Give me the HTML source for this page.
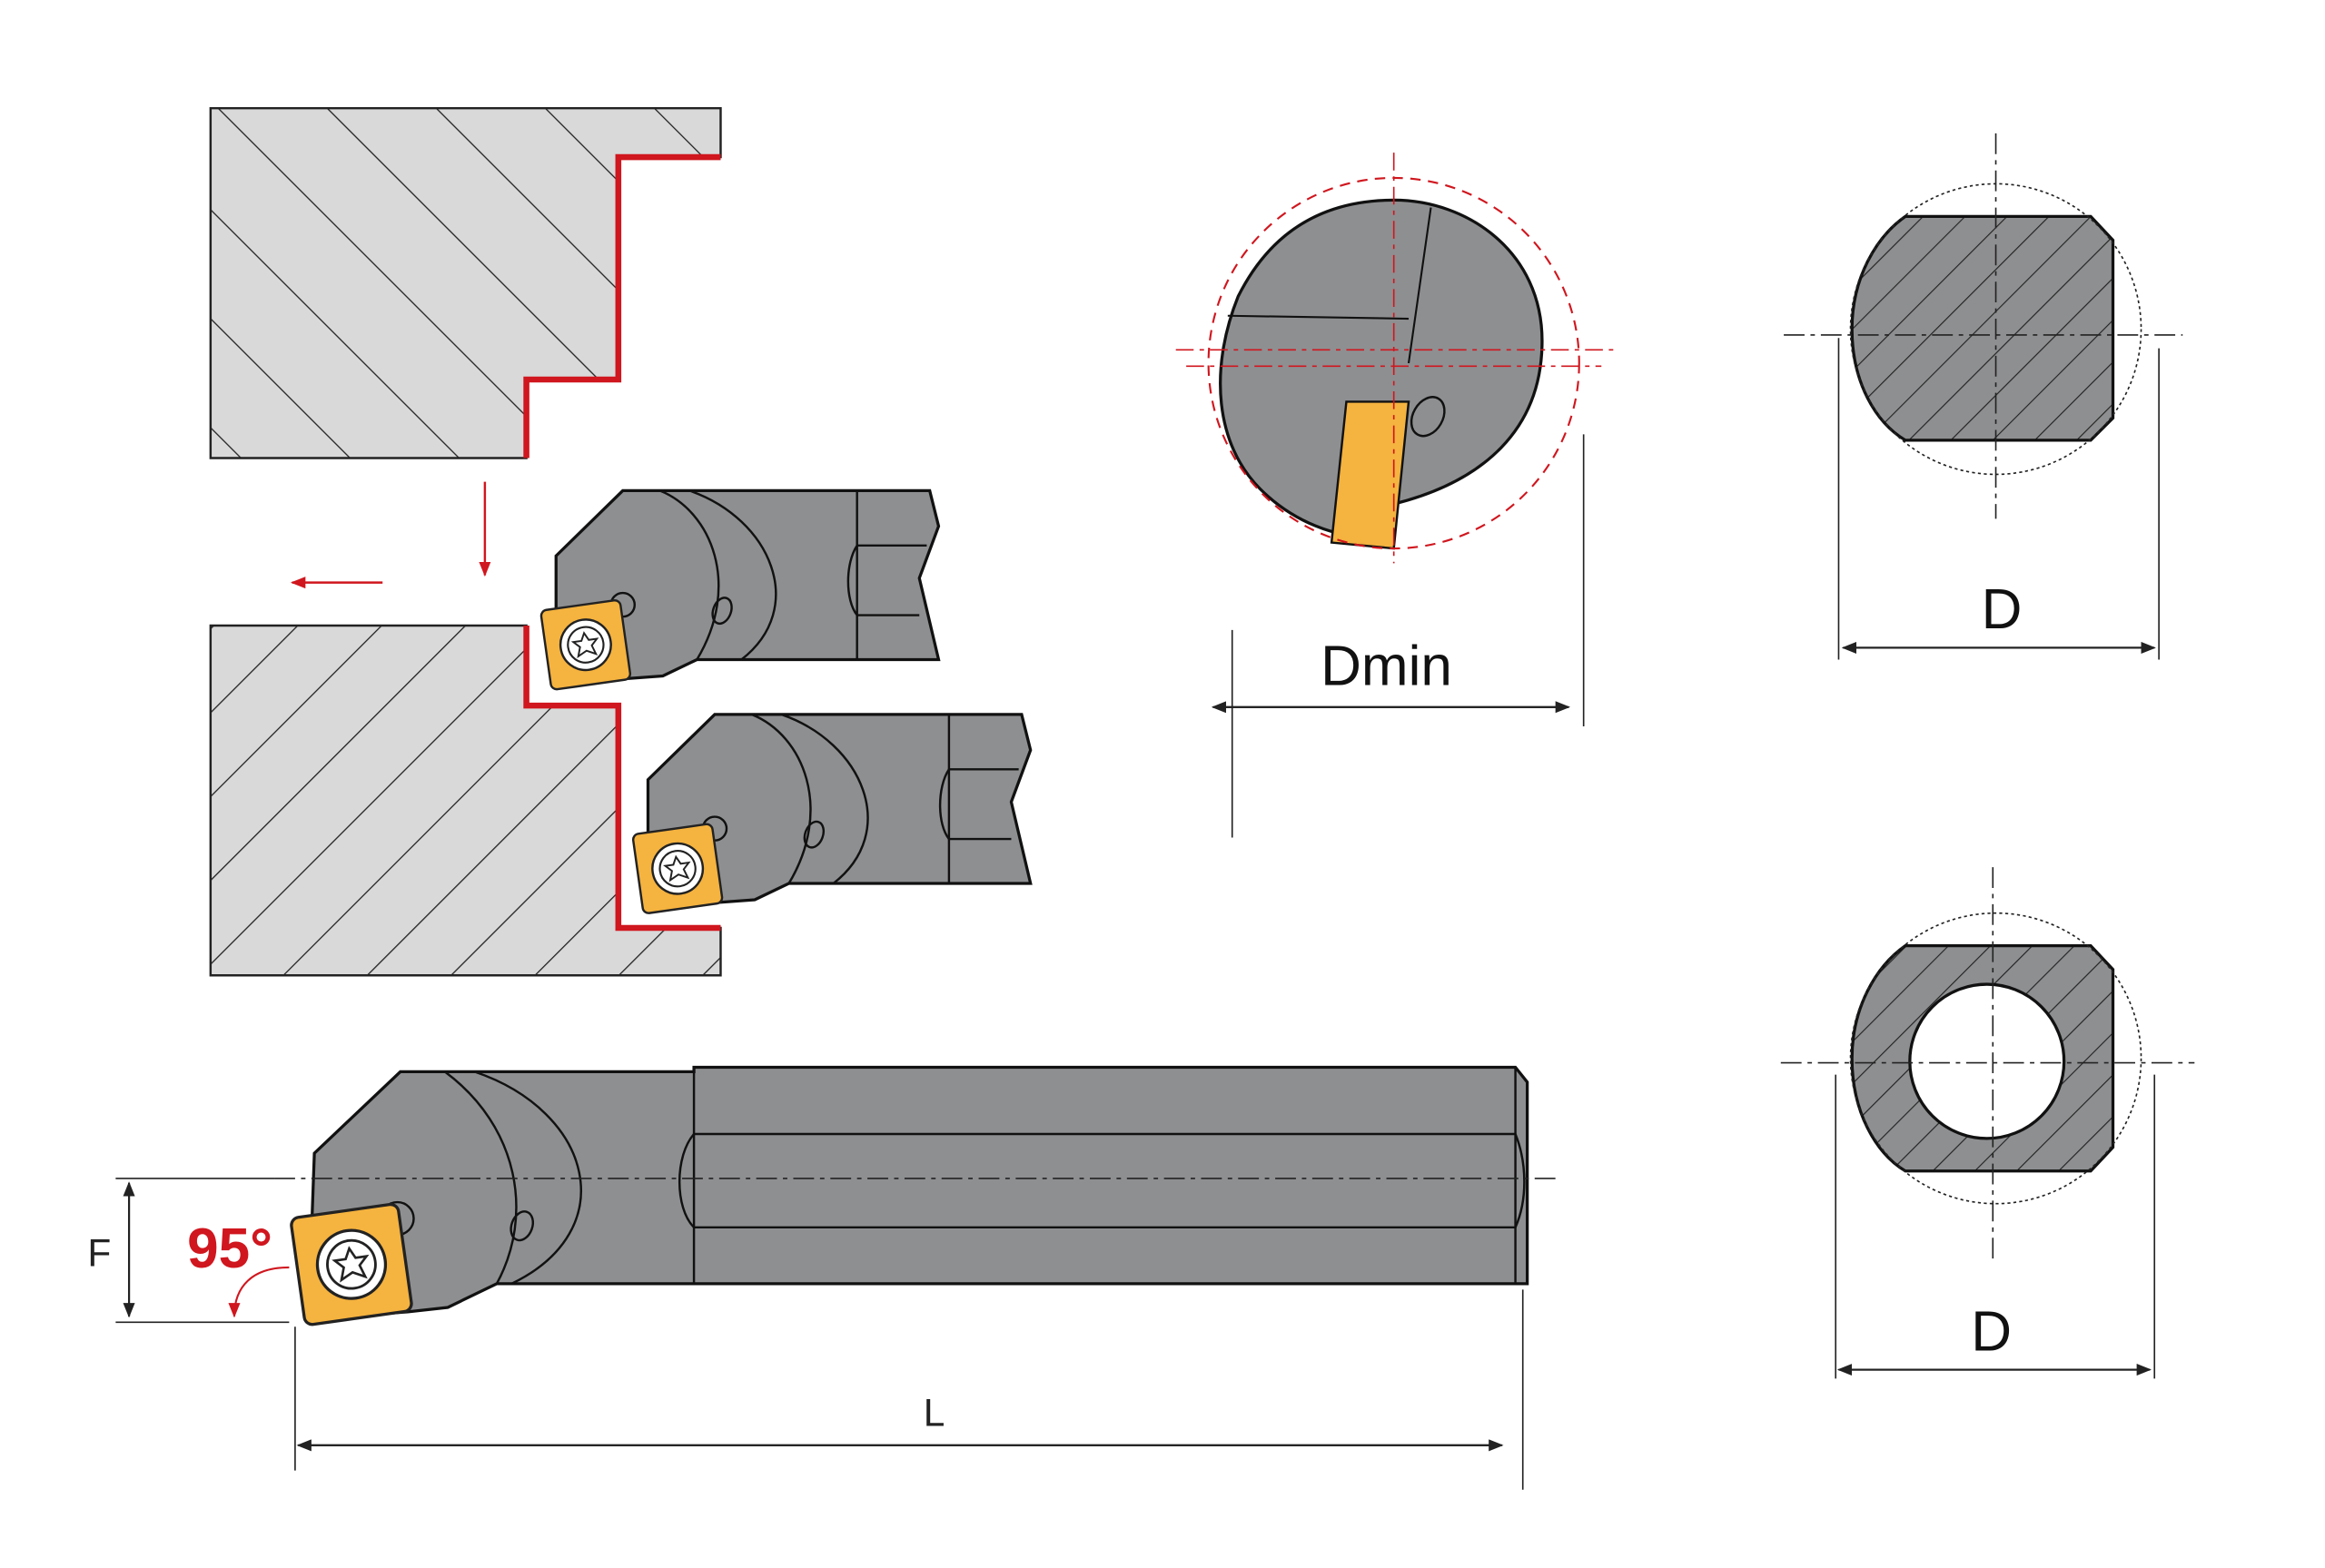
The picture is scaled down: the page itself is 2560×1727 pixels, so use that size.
<!DOCTYPE html>
<html><head><meta charset="utf-8"><style>html,body{margin:0;padding:0;background:#fff}svg{display:block}</style></head><body>
<svg width="2560" height="1727" viewBox="0 0 1568 1057.8" xmlns="http://www.w3.org/2000/svg" font-family="Liberation Sans, Arial, sans-serif">
<defs>
<pattern id="h1" patternUnits="userSpaceOnUse" width="52" height="52" patternTransform="rotate(-45)"><line x1="0" y1="0" x2="0" y2="52" stroke="#222" stroke-width="1.6"/></pattern>
<pattern id="h2" patternUnits="userSpaceOnUse" width="40" height="40" patternTransform="rotate(45)"><line x1="0" y1="0" x2="0" y2="40" stroke="#222" stroke-width="1.6"/></pattern>
<pattern id="h3" patternUnits="userSpaceOnUse" width="20" height="20" patternTransform="rotate(45)"><rect width="20" height="20" fill="#8e8f91"/><line x1="0" y1="0" x2="0" y2="20" stroke="#222" stroke-width="1.4"/></pattern>
<marker id="ar" markerWidth="10" markerHeight="8" refX="9" refY="4" orient="auto" markerUnits="userSpaceOnUse"><path d="M0,0 L10,4 L0,8 Z" fill="#222"/></marker>
<marker id="arr" markerWidth="10" markerHeight="8" refX="9" refY="4" orient="auto" markerUnits="userSpaceOnUse"><path d="M0,0 L10,4 L0,8 Z" fill="#d0161e"/></marker>
<g id="ins"><rect x="-27" y="-27" width="54" height="54" rx="4" fill="#f5b33f" stroke="#222" stroke-width="1.5"/><circle r="17" fill="#fff" stroke="#222" stroke-width="1.5"/><circle r="12" fill="none" stroke="#222" stroke-width="1.3"/><path d="M0,-8 L2.5,-3 8,-3 4,1 6,7 0,4 -6,7 -4,1 -8,-3 -2.5,-3Z" fill="none" stroke="#222" stroke-width="1.2"/></g>
<g id="tool">
<path d="M375,375 L420,331 L627,331 L633,355 L620,390 L633,445 L470,445 L447,456 L420,458 L375,440 Z" fill="#8e8f91" stroke="#111" stroke-width="2"/>
<path d="M445,331 C480,345 500,395 470,445" fill="none" stroke="#111" stroke-width="1.5"/>
<path d="M465,331 C520,350 545,410 500,445" fill="none" stroke="#111" stroke-width="1.5"/>
<line x1="578" y1="331" x2="578" y2="445" stroke="#111" stroke-width="1.5"/>
<path d="M578,368 C570,380 570,405 578,415 L620,415 M578,368 L625,368" fill="none" stroke="#111" stroke-width="1.5"/>
<ellipse cx="487" cy="412" rx="6" ry="9" transform="rotate(20 487 412)" fill="none" stroke="#111" stroke-width="1.5"/>
<circle cx="420" cy="408" r="8" fill="none" stroke="#111" stroke-width="1.5"/>
<use href="#ins" transform="translate(395,435) rotate(-8)"/>
</g>
</defs>
<path d="M142,73 L486,73 L486,106 L417,106 L417,256 L355,256 L355,309 L142,309 Z" fill="#d9d9d9" stroke="#222" stroke-width="1.5"/>
<path d="M142,73 L486,73 L486,106 L417,106 L417,256 L355,256 L355,309 L142,309 Z" fill="url(#h1)"/>
<path d="M486,106 L417,106 L417,256 L355,256 L355,309" fill="none" stroke="#d0161e" stroke-width="4"/>
<path d="M142,422 L355,422 L355,476 L417,476 L417,626 L486,626 L486,658 L142,658 Z" fill="#d9d9d9" stroke="#222" stroke-width="1.5"/>
<path d="M142,422 L355,422 L355,476 L417,476 L417,626 L486,626 L486,658 L142,658 Z" fill="url(#h2)"/>
<path d="M355,422 L355,476 L417,476 L417,626 L486,626" fill="none" stroke="#d0161e" stroke-width="4"/>
<line x1="327" y1="325" x2="327" y2="388" stroke="#d0161e" stroke-width="1.5" marker-end="url(#arr)"/>
<line x1="258" y1="393" x2="197" y2="393" stroke="#d0161e" stroke-width="1.5" marker-end="url(#arr)"/>
<use href="#tool"/>
<use href="#tool" transform="translate(62,151)"/>
<path d="M212,778 L270,723 L468,723 L468,720 L1022,720 L1030,730 L1030,866 L468,866 L468,866 L335,866 L302,882 L275,885 L208,890 Z" fill="#8e8f91" stroke="#111" stroke-width="2"/>
<line x1="468" y1="720" x2="468" y2="866" stroke="#111" stroke-width="1.5"/>
<line x1="1022" y1="720" x2="1022" y2="866" stroke="#111" stroke-width="1.5"/>
<path d="M468,765 L1022,765 M468,828 L1022,828" stroke="#111" stroke-width="1.5"/>
<path d="M468,765 C455,780 455,815 468,828 M1022,765 C1030,785 1030,810 1022,828" fill="none" stroke="#111" stroke-width="1.5"/>
<path d="M300,723 C350,760 360,820 335,866" fill="none" stroke="#111" stroke-width="1.5"/>
<path d="M320,723 C400,750 420,830 345,866" fill="none" stroke="#111" stroke-width="1.5"/>
<ellipse cx="352" cy="827" rx="7" ry="10" transform="rotate(20 352 827)" fill="none" stroke="#111" stroke-width="1.5"/>
<circle cx="268" cy="822" r="11" fill="none" stroke="#111" stroke-width="1.5"/>
<use href="#ins" transform="translate(237,853) rotate(-8) scale(1.35)"/>
<line x1="185" y1="795" x2="1050" y2="795" stroke="#222" stroke-width="1" stroke-dasharray="14,4,3,4"/>
<line x1="78" y1="795" x2="185" y2="795" stroke="#222" stroke-width="1"/>
<line x1="78" y1="892" x2="195" y2="892" stroke="#222" stroke-width="1"/>
<line x1="87" y1="800" x2="87" y2="888" stroke="#222" stroke-width="1.3" marker-end="url(#ar)"/>
<line x1="87" y1="888" x2="87" y2="798" stroke="#222" stroke-width="1.3" marker-end="url(#ar)"/>
<text x="67" y="854" font-size="26" text-anchor="middle" fill="#222">F</text>
<text x="155" y="855" font-size="38" font-weight="bold" text-anchor="middle" fill="#d0161e">95°</text>
<path d="M195,855 C170,855 158,868 158,888" fill="none" stroke="#d0161e" stroke-width="1.3" marker-end="url(#arr)"/>
<line x1="199" y1="895" x2="199" y2="992" stroke="#222" stroke-width="1"/>
<line x1="1027" y1="870" x2="1027" y2="1005" stroke="#222" stroke-width="1"/>
<line x1="205" y1="975" x2="1013" y2="975" stroke="#222" stroke-width="1.3" marker-end="url(#ar)"/>
<line x1="1010" y1="975" x2="201" y2="975" stroke="#222" stroke-width="1.3" marker-end="url(#ar)"/>
<text x="630" y="962" font-size="26" text-anchor="middle" fill="#222">L</text>
<path d="M835,200 C860,150 900,135 940,135 C990,135 1040,170 1040,230 C1040,290 1000,325 940,340 L937,363 C900,365 870,350 850,330 C820,300 815,250 835,200 Z" fill="#8e8f91" stroke="#111" stroke-width="2"/>
<path d="M828,213 L950,215 M965,140 L950,245" stroke="#111" stroke-width="1.3" fill="none"/>
<ellipse cx="963" cy="281" rx="10" ry="14" transform="rotate(30 963 281)" fill="none" stroke="#111" stroke-width="1.5"/>
<path d="M908,271 L950,271 L940,370 L898,366 Z" fill="#f5b33f" stroke="#111" stroke-width="1.5"/>
<circle cx="940" cy="245" r="125" fill="none" stroke="#d0161e" stroke-width="1.3" stroke-dasharray="7,5"/>
<line x1="940" y1="103" x2="940" y2="380" stroke="#d0161e" stroke-width="1" stroke-dasharray="12,4,3,4"/>
<line x1="793" y1="236" x2="1088" y2="236" stroke="#d0161e" stroke-width="1" stroke-dasharray="12,4,3,4"/>
<line x1="800" y1="247" x2="1080" y2="247" stroke="#d0161e" stroke-width="1" stroke-dasharray="12,4,3,4"/>
<line x1="831" y1="425" x2="831" y2="565" stroke="#222" stroke-width="1"/>
<line x1="1068" y1="293" x2="1068" y2="490" stroke="#222" stroke-width="1"/>
<line x1="824" y1="477" x2="1058" y2="477" stroke="#222" stroke-width="1.3" marker-end="url(#ar)"/>
<line x1="1054" y1="477" x2="818" y2="477" stroke="#222" stroke-width="1.3" marker-end="url(#ar)"/>
<text x="935" y="462" font-size="38" text-anchor="middle" fill="#111">Dmin</text>
<path d="M1285,146 L1410,146 L1425,162 L1425,282 L1410,297 L1285,297 C1265,285 1249,258 1249,222 C1249,188 1265,160 1285,146 Z" fill="url(#h3)" stroke="#111" stroke-width="2"/>
<circle cx="1346" cy="222" r="98" fill="none" stroke="#222" stroke-width="1" stroke-dasharray="2,2"/>
<line x1="1346" y1="90" x2="1346" y2="350" stroke="#222" stroke-width="1" stroke-dasharray="14,4,3,4"/>
<line x1="1203" y1="226" x2="1472" y2="226" stroke="#222" stroke-width="1" stroke-dasharray="14,4,3,4"/>
<line x1="1240" y1="228" x2="1240" y2="445" stroke="#222" stroke-width="1"/>
<line x1="1456" y1="235" x2="1456" y2="445" stroke="#222" stroke-width="1"/>
<line x1="1246" y1="437" x2="1453" y2="437" stroke="#222" stroke-width="1.3" marker-end="url(#ar)"/>
<line x1="1450" y1="437" x2="1243" y2="437" stroke="#222" stroke-width="1.3" marker-end="url(#ar)"/>
<text x="1350" y="424" font-size="38" text-anchor="middle" fill="#111">D</text>
<path d="M1285,638 L1410,638 L1425,654 L1425,774 L1410,790 L1285,790 C1265,778 1249,750 1249,714 C1249,680 1265,652 1285,638 Z" fill="url(#h3)" stroke="#111" stroke-width="2"/>
<circle cx="1340" cy="716" r="52" fill="#fff" stroke="#111" stroke-width="2"/>
<circle cx="1346" cy="714" r="98" fill="none" stroke="#222" stroke-width="1" stroke-dasharray="2,2"/>
<line x1="1344" y1="585" x2="1344" y2="850" stroke="#222" stroke-width="1" stroke-dasharray="14,4,3,4"/>
<line x1="1201" y1="717" x2="1480" y2="717" stroke="#222" stroke-width="1" stroke-dasharray="14,4,3,4"/>
<line x1="1238" y1="725" x2="1238" y2="930" stroke="#222" stroke-width="1"/>
<line x1="1453" y1="725" x2="1453" y2="930" stroke="#222" stroke-width="1"/>
<line x1="1243" y1="924" x2="1450" y2="924" stroke="#222" stroke-width="1.3" marker-end="url(#ar)"/>
<line x1="1447" y1="924" x2="1240" y2="924" stroke="#222" stroke-width="1.3" marker-end="url(#ar)"/>
<text x="1343" y="911" font-size="38" text-anchor="middle" fill="#111">D</text>
</svg>
</body></html>
